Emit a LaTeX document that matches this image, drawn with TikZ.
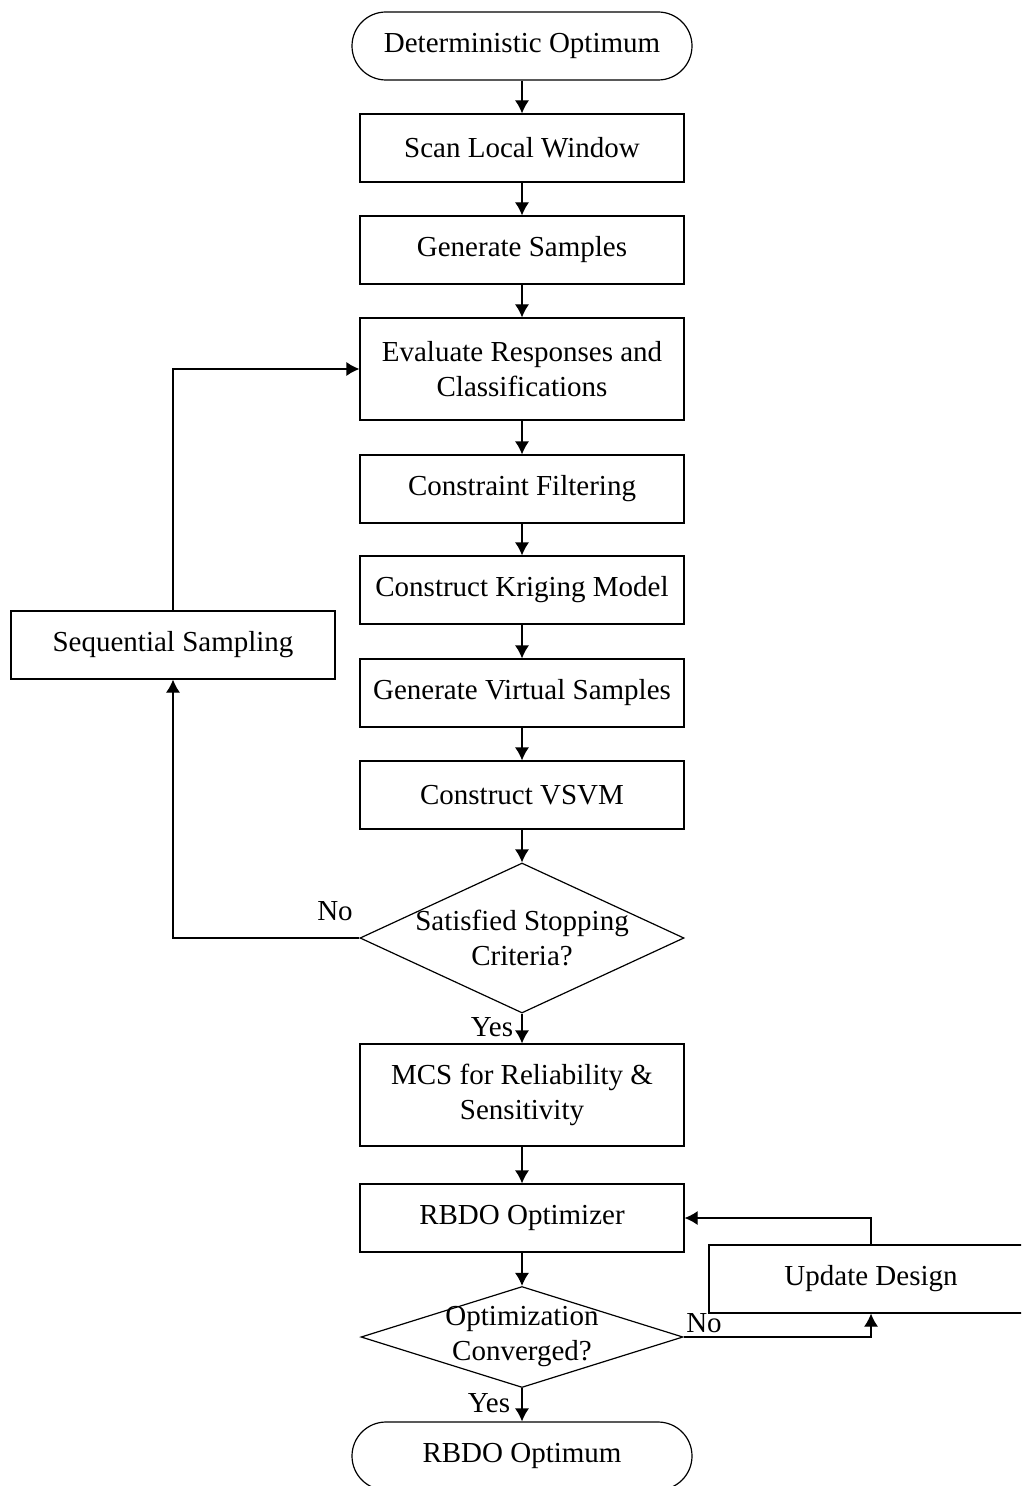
\documentclass[tikz,border=0pt]{standalone}
\usepackage{fontspec}
\setmainfont{Liberation Serif}
\usetikzlibrary{shapes.geometric, arrows.meta}

\tikzset{
  process/.style={draw, line width=0.6pt, minimum width=162pt, minimum height=34pt, align=center},
  terminal/.style={draw, line width=0.6pt, rounded corners=17pt, minimum width=170pt, minimum height=34pt},
  decision/.style={draw, diamond, line width=0.6pt, inner sep=0pt},
  flow/.style={->, line width=0.6pt},
}

\begin{document}
\begin{tikzpicture}[x=0.5pt, y=-0.5pt, font=\fontsize{14.5}{17.5}\selectfont, >={Latex[length=6.5pt,width=7pt]}]

    % page of the reference
    \useasboundingbox (0,0) rectangle (1021,1486);
    \clip (0,0) rectangle (1021,1486);

    % main column
    \node[terminal] (start) at (522,46) {Deterministic Optimum};
    \node[process] (scan) at (522,148) {Scan Local Window};
    \node[process] (gen) at (522,250) {Generate Samples};
    \node[process, minimum height=51pt] (eval) at (522,369) {Evaluate Responses and\\Classifications};
    \node[process] (filt) at (522,489) {Constraint Filtering};
    \node[process] (krig) at (522,590) {Construct Kriging Model};
    \node[process] (virt) at (522,693) {Generate Virtual Samples};
    \node[process] (vsvm) at (522,795) {Construct VSVM};
    \node[decision, minimum width=162pt, minimum height=75pt] (stop) at (522,938) {};
    \node[align=center] (stoptxt) at (522,938) {Satisfied Stopping\\Criteria?};
    \node[process, minimum height=51pt] (mcs) at (522,1095) {MCS for Reliability \&\\Sensitivity};
    \node[process] (opt) at (522,1218) {RBDO Optimizer};
    \node[decision, minimum width=161pt, minimum height=50.5pt] (conv) at (522,1337) {};
    \node[align=center] (convtxt) at (522,1337) {Optimization\\Converged?};
    \node[terminal] (finish) at (522,1456) {RBDO Optimum};

    % side boxes
    \node[process] (seq) at (173,645) {Sequential Sampling};
    \node[process] (upd) at (871,1279) {Update Design};

    \draw[flow] (start) -- (scan);
    \draw[flow] (scan) -- (gen);
    \draw[flow] (gen) -- (eval);
    \draw[flow] (eval) -- (filt);
    \draw[flow] (filt) -- (krig);
    \draw[flow] (krig) -- (virt);
    \draw[flow] (virt) -- (vsvm);
    \draw[flow] (vsvm) -- (stop);
    \draw[flow] (stop) -- (mcs);
    \draw[flow] (mcs) -- (opt);
    \draw[flow] (opt) -- (conv);
    \draw[flow] (conv) -- (finish);

    % loops
    \draw[flow] (stop.west) -| (seq.south);
    \draw[flow] (seq.north) |- (eval.west);
    \draw[flow] (conv.east) -| (upd.south);
    \draw[flow] (upd.north) |- (opt.east);

    \node (no1) at (335,911) {No};
    \node (yes1) at (492,1027) {Yes};
    \node (no2) at (704,1323) {No};
    \node (yes2) at (489,1403) {Yes};

\end{tikzpicture}
\end{document}
